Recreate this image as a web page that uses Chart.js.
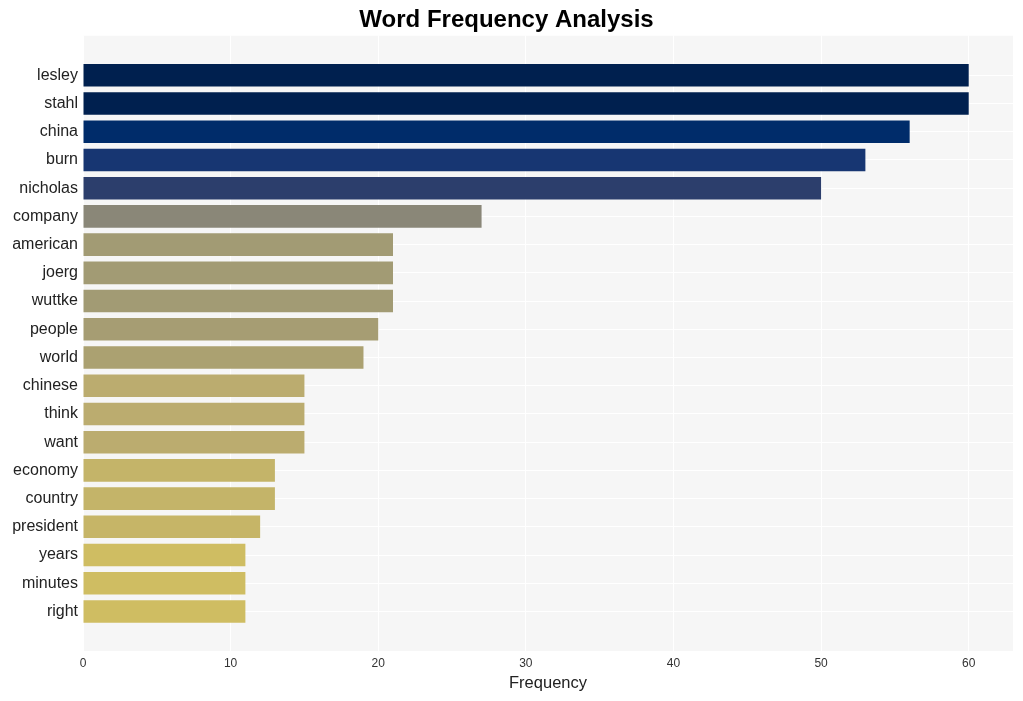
<!DOCTYPE html>
<html lang="en">
<head>
  <meta charset="UTF-8" />
  <title>Word Frequency Analysis</title>
  <script src="https://cdn.jsdelivr.net/npm/chart.js"></script>
  <style>
    html, body { margin: 0; padding: 0; background: #fff; }
    #wrap { width: 1023px; height: 701px; }
  </style>
</head>
<body>
  <div id="wrap"><canvas id="wordChart"></canvas></div>

  <script>
    const words = ['lesley', 'stahl', 'china', 'burn', 'nicholas', 'company', 'american', 'joerg',
      'wuttke', 'people', 'world', 'chinese', 'think', 'want', 'economy', 'country', 'president',
      'years', 'minutes', 'right'];
    const counts = [60, 60, 56, 53, 50, 27, 21, 21, 21, 20, 19, 15, 15, 15, 13, 13, 12, 11, 11, 11];
    const barColors = ['#00204f', '#00204f', '#002c6a', '#173672', '#2c3e6c', '#8a8778', '#a29b74',
      '#a29b74', '#a29b74', '#a69d73', '#aba171', '#bbac6f', '#bbac6f', '#bbac6f', '#c4b469',
      '#c4b469', '#c6b567', '#cfbd62', '#cfbd62', '#cfbd62'];
    const xTicks = [0, 10, 20, 30, 40, 50, 60];

    // grey plot background behind the grid
    const plotBg = {
      id: 'plotBg',
      beforeDraw(chart) {
        const { ctx, chartArea: a } = chart;
        ctx.save();
        ctx.fillStyle = '#f6f6f6';
        ctx.fillRect(a.left, a.top, a.right - a.left, a.bottom - a.top);
        ctx.restore();
      }
    };

    new Chart(document.getElementById('wordChart'), {
      type: 'bar',
      data: {
        datasets: [{
          data: words.map((w, i) => ({ x: counts[i], y: i })),
          backgroundColor: barColors,
          borderWidth: 0,
          barPercentage: 0.8,
          categoryPercentage: 1
        }]
      },
      options: {
        indexAxis: 'y',
        responsive: true,
        maintainAspectRatio: false,
        animation: false,
        layout: { padding: { top: 0, right: 10, bottom: 6, left: 0 } },
        plugins: {
          legend: { display: false },
          tooltip: { enabled: false },
          title: {
            display: true,
            text: 'Word Frequency Analysis',
            color: '#000',
            font: { family: 'Liberation Sans', size: 24, weight: 'bold' },
            padding: { top: 6, bottom: 1 }
          }
        },
        scales: {
          x: {
            type: 'linear',
            min: 0,
            max: 63,
            bounds: 'data',
            afterBuildTicks(scale) { scale.ticks = xTicks.map(v => ({ value: v })); },
            afterFit(scale) { scale.height = 44; },
            grid: { color: '#ffffff', lineWidth: 1, drawTicks: false },
            border: { display: false },
            ticks: { color: '#333', padding: 5, font: { family: 'Liberation Sans', size: 12 } },
            title: {
              display: true,
              text: 'Frequency',
              color: '#222',
              font: { family: 'Liberation Sans', size: 16.5 },
              padding: { top: 4, bottom: 2 }
            }
          },
          y: {
            type: 'linear',
            reverse: true,
            offset: false,
            min: -1.4,
            max: 20.4,
            bounds: 'data',
            afterBuildTicks(scale) { scale.ticks = words.map((w, i) => ({ value: i })); },
            afterFit(scale) { scale.width = 83; },
            grid: { color: '#ffffff', lineWidth: 1, drawTicks: false, offset: false },
            border: { display: false },
            ticks: {
              color: '#222',
              padding: 5,
              autoSkip: false,
              font: { family: 'Liberation Sans', size: 16 },
              callback: (v) => words[v] ?? ''
            }
          }
        }
      },
      plugins: [plotBg]
    });
  </script>
</body>
</html>
